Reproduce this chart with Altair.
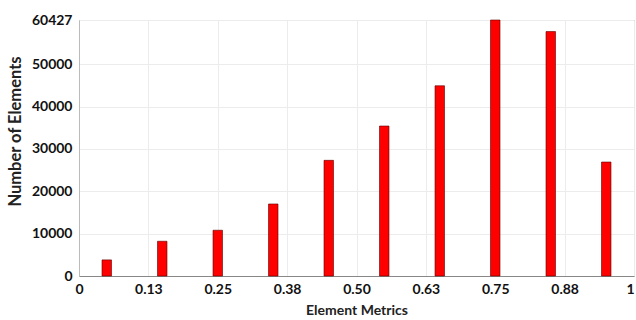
import altair as alt
import pandas as pd

metric = [0.05, 0.15, 0.25, 0.35, 0.45, 0.55, 0.65, 0.75, 0.85, 0.95]
counts = [3800, 8200, 10800, 17000, 27300, 35400, 44900, 60427, 57700, 26900]
x_ticks = [0, 0.125, 0.25, 0.375, 0.5, 0.625, 0.75, 0.875, 1]
x_labels = ["0", "0.13", "0.25", "0.38", "0.50", "0.63", "0.75", "0.88", "1"]
y_ticks = [0, 10000, 20000, 30000, 40000, 50000, 60427]

df = pd.DataFrame({"metric": metric, "count": counts})

label_expr = " : ".join(
    f"datum.value == {v} ? '{l}'" for v, l in zip(x_ticks, x_labels)
) + " : ''"

font = "Lato"

chart = alt.Chart(df).mark_bar(
    color="#ff0000", stroke="#5a0000", strokeWidth=0.6, size=9.5
).encode(
    x=alt.X("metric:Q",
            scale=alt.Scale(domain=[0, 1], nice=False, zero=False, padding=0),
            axis=alt.Axis(values=x_ticks, labelExpr=label_expr,
                          labelFlush=False, labelOverlap=False,
                          labelAlign={"condition": {"test": "datum.value == 1", "value": "right"},
                                      "value": "center"},
                          title="Element Metrics", grid=True,
                          gridColor="#ececec", ticks=False,
                          domainColor="#888888", labelPadding=6,
                          labelFontSize=14, labelFontWeight="bold",
                          labelColor="#111111", titleFontSize=14,
                          titleFontWeight="bold", titlePadding=7,
                          titleColor="#222222", labelFont=font, titleFont=font)),
    y=alt.Y("count:Q",
            scale=alt.Scale(domain=[0, 60427], nice=False),
            axis=alt.Axis(values=y_ticks, format="d",
                          labelFlush=False, labelOverlap=False,
                          title="Number of Elements", grid=True,
                          gridColor="#ececec", ticks=False,
                          domainColor="#bbbbbb", labelPadding=7,
                          labelFontSize=14, labelFontWeight="bold",
                          labelColor="#111111", titleFontSize=16.5,
                          titleFontWeight="bold",
                          titleX=-64, titleY=111, titleAngle=270,
                          titleAlign="center", titleBaseline="middle",
                          titleColor="#222222", labelFont=font, titleFont=font)),
).properties(
    width=555, height=256,
    autosize=alt.AutoSizeParams(type="none"),
    padding={"left": 79, "top": 20, "right": 2, "bottom": 44},
).configure_view(stroke="#999999", strokeWidth=1)

chart.save("out.html", embed_options={"renderer": "svg", "actions": False})
